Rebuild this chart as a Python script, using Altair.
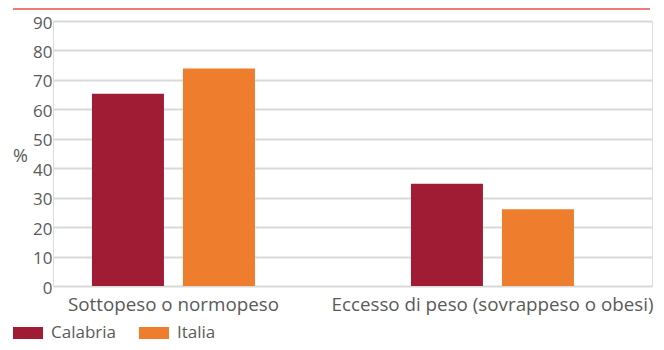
import altair as alt
import pandas as pd

categories = ["Sottopeso o normopeso", "Eccesso di peso (sovrappeso o obesi)"]
series = ["Calabria", "Italia"]
calabria = [65.3, 34.7]
italia = [73.9, 26.1]
y_ticks = [0, 10, 20, 30, 40, 50, 60, 70, 80, 90]
colors = ["#a01c35", "#ef7d2e"]

rows = []
for i, c in enumerate(categories):
    rows.append({"cat": c, "serie": series[0], "val": calabria[i]})
    rows.append({"cat": c, "serie": series[1], "val": italia[i]})
df = pd.DataFrame(rows)

FONT = "Open Sans"
GRAY = "#5a5a5a"

bars = alt.Chart(df).mark_bar().encode(
    x=alt.X("cat:N", sort=categories,
            scale=alt.Scale(paddingInner=0.489, paddingOuter=0.1834, align=0.333),
            axis=alt.Axis(title=None, labelAngle=0, domain=False, ticks=False,
                          labelFontSize=18.8, labelColor=GRAY, labelFont=FONT,
                          labelPadding=9, labelBaseline="top", labelLimit=500)),
    xOffset=alt.XOffset("serie:N", sort=series,
                        scale=alt.Scale(paddingInner=0.209, paddingOuter=0)),
    y=alt.Y("val:Q", scale=alt.Scale(domain=[0, 90], nice=False),
            axis=alt.Axis(title="%", values=y_ticks, domain=False, ticks=False,
                          labelFontSize=17, labelColor=GRAY, labelFont=FONT,
                          labelPadding=1, labelOffset=2,
                          gridColor="#d9d9d9", gridWidth=2,
                          titleAngle=0, titleX=-33, titleY=135,
                          titleAlign="center", titleBaseline="middle",
                          titleFontSize=18, titleFont=FONT, titleColor=GRAY,
                          titleFontWeight="normal")),
    color=alt.Color("serie:N", sort=series,
                    scale=alt.Scale(domain=series, range=colors),
                    legend=alt.Legend(title=None, orient="none", legendX=-40, legendY=297,
                                      direction="horizontal",
                                      symbolType="M-1,-0.4H1V0.4H-1Z", symbolSize=900,
                                      symbolStrokeWidth=0, symbolOpacity=1,
                                      labelFontSize=17, labelFont=FONT, labelColor=GRAY,
                                      labelOffset=8, columnPadding=23)),
)

topline = alt.Chart(df).mark_rule(color="#f07b7b", strokeWidth=2).encode(
    x=alt.value(-40), x2=alt.value(597), y=alt.value(-12)
)

chart = alt.layer(topline, bars).properties(
    width=599, height=265,
    autosize=alt.AutoSizeParams(type="none"),
    padding={"left": 45, "top": 13, "right": 4, "bottom": 56},
).configure_view(stroke=None).configure(font=FONT)

chart.save("out.html", embed_options={"renderer": "svg", "actions": False})
